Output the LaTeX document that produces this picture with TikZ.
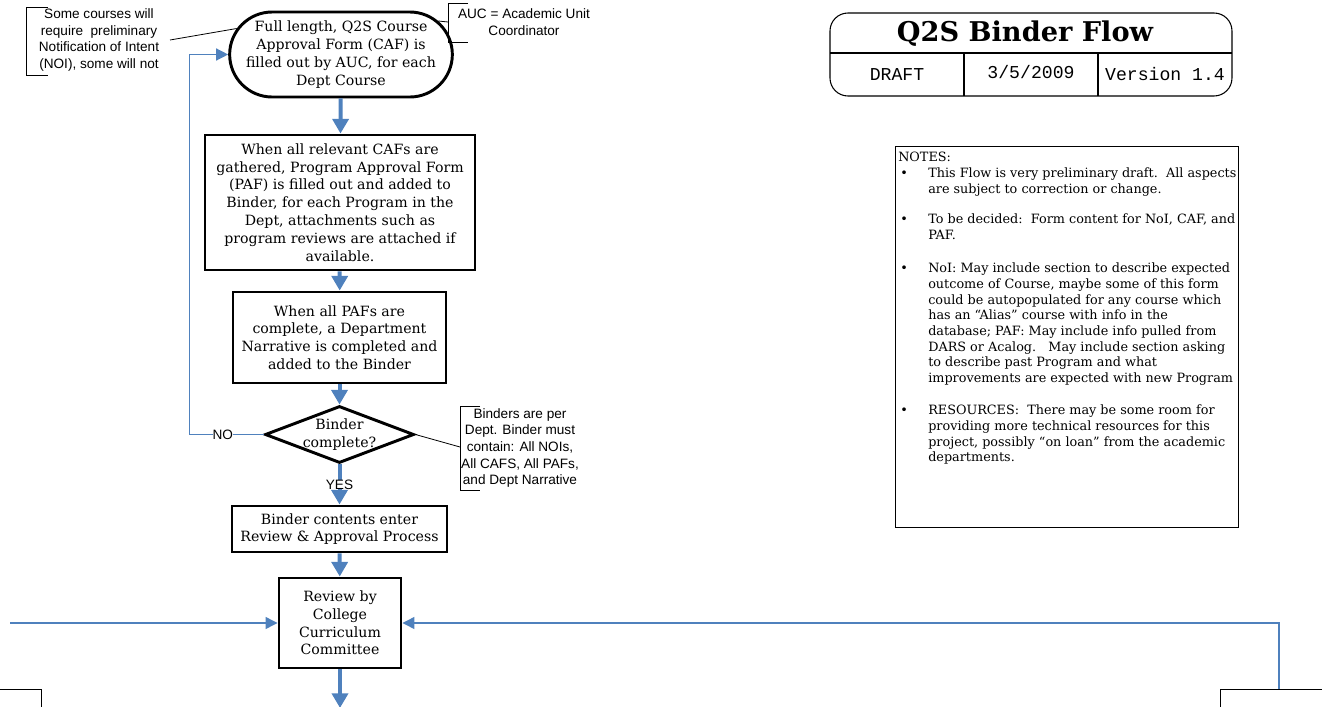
\documentclass[tikz,border=0pt]{standalone}
\usepackage{fontspec}
\setmainfont{DejaVu Serif}
\newfontfamily\annofont{Liberation Sans}
\newfontfamily\cellfont{Liberation Mono}
\usetikzlibrary{shapes.geometric,shapes.misc,arrows.meta}
\definecolor{flowblue}{HTML}{4F81BD}

\begin{document}
\begin{tikzpicture}[x=0.75pt, y=-0.75pt,
    flow_font/.style={font=\fontsize{10.6}{13.35}\selectfont},
    start_style/.style={rounded rectangle, draw=black, line width=2.2pt, inner sep=0pt, minimum width=159pt, minimum height=63.75pt, align=center, flow_font},
    step_style/.style={rectangle, draw=black, line width=2.2pt, inner sep=0pt, align=center, flow_font},
    decision_style/.style={diamond, draw=black, line width=2.2pt, inner sep=0pt, aspect=2.6, minimum width=111.75pt, minimum height=42.75pt},
    text_style/.style={align=center, inner sep=0pt, flow_font},
    anno_style/.style={align=center, inner sep=0pt, font=\annofont\fontsize{10.2}{12.5}\selectfont},
    notes_style/.style={align=left, inner sep=0pt, anchor=north west, font=\fontsize{9.6}{11.75}\selectfont},
    bullet_style/.style={inner sep=0pt, anchor=base west, font=\fontsize{9.6}{11.75}\selectfont},
    cell_style/.style={inner sep=0pt, font=\cellfont\fontsize{13.6}{16}\selectfont},
    flow_edge_style/.style={draw=flowblue, line width=3pt, -{Triangle[length=11pt,width=12pt]}},
    loop_edge_style/.style={draw=flowblue, line width=1pt, -{Triangle[length=9pt,width=9pt]}},
    edge_label_style/.style={fill=white, inner sep=1.5pt, anno_style},
    note_line_style/.style={draw=black, line width=0.6pt},
    frame_line_style/.style={draw=black, line width=0.8pt},
    cut_box_style/.style={draw=black, line width=0.6pt, minimum width=60pt, minimum height=45pt}]

    \useasboundingbox (0,0) rectangle (1322,707);
    \clip (0,0) rectangle (1322,707);

    % flow
    \node[start_style] (start) at (341,54.5) {Full length, Q2S Course\\Approval Form (CAF) is\\filled out by AUC, for each\\Dept Course};
    \node[step_style, minimum width=202.5pt, minimum height=101.25pt] (paf) at (340,202.5) {When all relevant CAFs are\\gathered, Program Approval Form\\(PAF) is filled out and added to\\Binder, for each Program in the\\Dept, attachments such as\\program reviews are attached if\\available.};
    \node[step_style, minimum width=159.75pt, minimum height=68.25pt] (narrative) at (339.5,337.5) {When all PAFs are\\complete, a Department\\Narrative is completed and\\added to the Binder};
    \node[decision_style] (check) at (339.5,434.5) {};
    \node[text_style] (check_text) at (check) {Binder\\complete?};
    \node[step_style, minimum width=161.25pt, minimum height=34.5pt] (enter) at (339.5,529) {Binder contents enter\\Review \& Approval Process};
    \node[step_style, minimum width=91.5pt, minimum height=67.5pt] (review) at (340,623) {Review by\\College\\Curriculum\\Committee};
    \coordinate (review_out) at (340,708);

    % boxes cut by the page edge
    \node[cut_box_style, anchor=north east] (na_box) at (42,689) {};
    \node[cut_box_style, anchor=north, minimum width=88.5pt] (caf_box) at (1279,689) {};
    \coordinate (left_feed) at (10,623);

    \draw[flow_edge_style] (start) -- (paf);
    \draw[flow_edge_style] (paf) -- (narrative);
    \draw[flow_edge_style] (narrative) -- (check);
    \draw[flow_edge_style] (check) -- node[edge_label_style] {YES} (enter);
    \draw[flow_edge_style] (enter) -- (review);
    \draw[flow_edge_style] (review) -- (review_out);
    \draw[loop_edge_style] (check.west) -- node[edge_label_style, pos=0.55] {NO} ++(-74,0) |- (start.west);
    \draw[loop_edge_style] (left_feed) -- (review.west);
    \draw[loop_edge_style] (caf_box.north) |- (review.east);

    % annotations
    \node[anno_style] (noi_note) at (99,40) {Some courses will\\require\ \ preliminary\\Notification of Intent\\(NOI), some will not};
    \draw[note_line_style] (48,7) -- (26,7) -- (26,75) -- (48,75);
    \coordinate (noi_tick) at (170,40);
    \draw[note_line_style] (noi_tick) -- (start.166);

    \node[anno_style] (auc_note) at (524,22) {AUC = Academic Unit\\Coordinator};
    \draw[note_line_style] (468,3) -- (448,3) -- (448,42) -- (468,42);
    \coordinate (auc_tick) at (448,22);
    \draw[note_line_style] (auc_tick) -- (start.19);

    \node[anno_style] (binder_note) at (520,448) {Binders are per\\Dept. Binder must\\contain: All NOIs,\\All CAFS, All PAFs,\\and Dept Narrative};
    \draw[note_line_style] (480,406) -- (460,406) -- (460,490) -- (480,490);
    \coordinate (binder_tick) at (460,447);
    \draw[note_line_style] (check.east) -- (binder_tick);

    % title block
    \draw[frame_line_style, rounded corners=13.5pt] (830,13) rectangle (1232,96);
    \draw[frame_line_style] (830,53) -- (1232,53);
    \draw[frame_line_style] (964,53) -- (964,96);
    \draw[frame_line_style] (1098,53) -- (1098,96);
    \node[font=\bfseries\fontsize{20.4}{22}\selectfont] (title) at (1025,34) {Q2S Binder Flow};
    \node[cell_style] (draft) at (897,75) {DRAFT};
    \node[cell_style] (date) at (1031,72) {3/5/2009};
    \node[cell_style] (version) at (1165,74) {Version 1.4};

    % notes
    \draw[note_line_style] (895,146) rectangle (1238,527);
    \node[notes_style] (notes_head) at (898,152) {NOTES:};
    \node[notes_style] (note_a) at (928,168) {This Flow is very preliminary draft.\ \ All aspects\\are subject to correction or change.};
    \node[notes_style] (note_b) at (928,214) {To be decided:\ \ Form content for NoI, CAF, and\\PAF.};
    \node[notes_style] (note_c) at (928,263) {NoI: May include section to describe expected\\outcome of Course, maybe some of this form\\could be autopopulated for any course which\\has an “Alias” course with info in the\\database; PAF: May include info pulled from\\DARS or Acalog.\ \ \ May include section asking\\to describe past Program and what\\improvements are expected with new Program};
    \node[notes_style] (note_d) at (928,405) {RESOURCES:\ \ There may be some room for\\providing more technical resources for this\\project, possibly “on loan” from the academic\\departments.};
    \node[bullet_style] (bullet_a) at (900,177.5) {•};
    \node[bullet_style] (bullet_b) at (900,223.5) {•};
    \node[bullet_style] (bullet_c) at (900,272.5) {•};
    \node[bullet_style] (bullet_d) at (900,414.5) {•};
\end{tikzpicture}
\end{document}
